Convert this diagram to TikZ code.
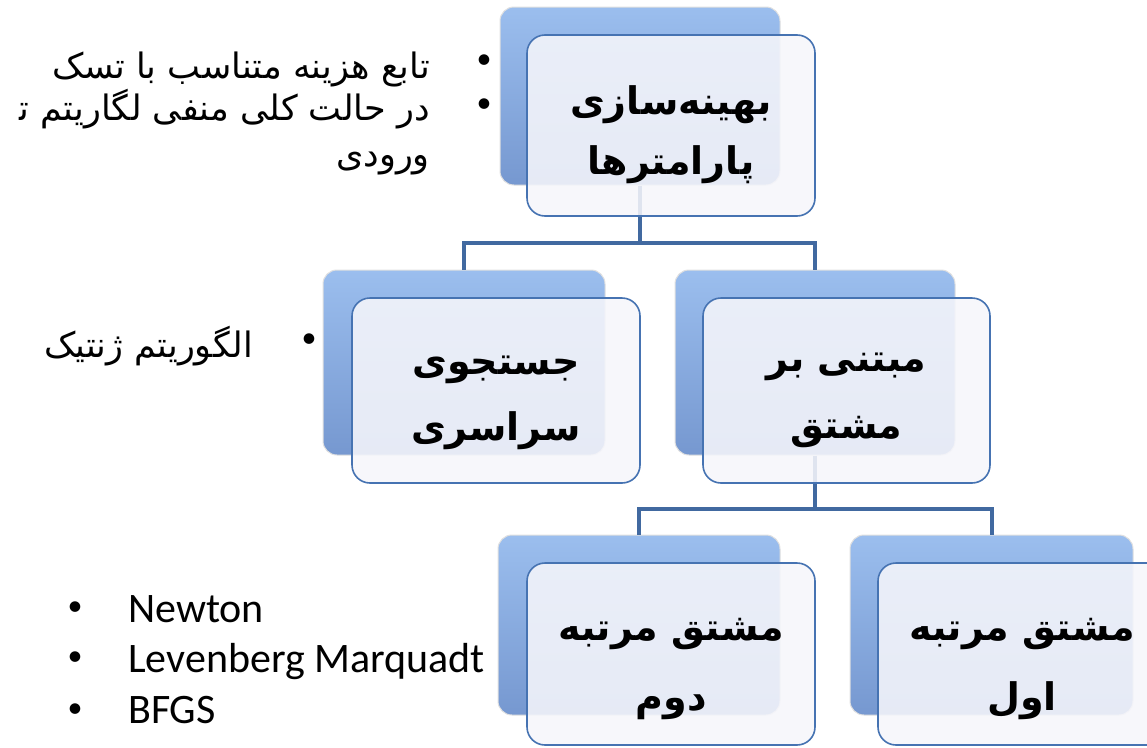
\documentclass[tikz,border=0pt]{standalone}
\usepackage{fontspec}
\setmainfont{Carlito}
\newfontfamily\fa[Script=Arabic]{DejaVu Sans}
\TeXXeTstate=1
\usetikzlibrary{calc}
\definecolor{linkblue}{RGB}{65,105,160}
\definecolor{edgeblue}{RGB}{70,115,178}
\definecolor{backtop}{RGB}{155,190,238}
\definecolor{backbot}{RGB}{118,152,208}
\definecolor{frontfill}{RGB}{246,246,251}
% raises the first line's height so the label block sits a little lower
\newcommand{\droptext}[1][52pt]{\rule{0pt}{#1}}
\tikzset{
  backbox/.style={rounded corners=14pt, top color=backtop, bottom color=backbot,
    draw=black!12, line width=1pt, minimum width=280pt, minimum height=180pt, inner sep=0pt},
  frontbox/.style={rounded corners=18pt, fill=frontfill, fill opacity=0.88, text opacity=1,
    draw=edgeblue, line width=1.6pt, minimum width=288pt, minimum height=183pt,
    align=center, inner sep=0pt, font=\fa\bfseries\fontsize{38}{64}\selectfont},
  link/.style={draw=linkblue, line width=4pt},
  fatext/.style={font=\fa\fontsize{35}{40}\selectfont, anchor=base east, inner sep=0pt},
  dot/.style={font=\fontsize{30}{34}\selectfont, inner sep=0pt},
  entext/.style={font=\fontsize{42}{50}\selectfont, anchor=base west, inner sep=0pt},
}
\begin{document}
\begin{tikzpicture}[x=1pt, y=-1pt]
\useasboundingbox (0,0) rectangle (1147,747);
\clip (0,0) rectangle (1147,747);
\fill[white] (0,0) rectangle (1147,747);

% back layers of the hierarchy boxes
\node[backbox, minimum height=178pt] (topb) at (640,96) {};
\node[backbox, minimum width=282pt, minimum height=185pt] (mlb) at (464,362.5) {};
\node[backbox, minimum height=185pt] (mrb) at (815,362.5) {};
\node[backbox, minimum width=282pt] (blb) at (639,625) {};
\node[backbox, minimum width=283pt] (brb) at (991.5,625) {};

% connectors between levels
\draw[link] (topb.south) -- ++(0,57) coordinate (j1) -| (mlb.north);
\draw[link] (j1) -| (mrb.north);
\draw[link] (mrb.south) -- ++(0,53) coordinate (j2) -| (blb.north);
\draw[link] (j2) -| (brb.north);

% front cards with labels
\node[frontbox, minimum height=181pt, font=\fa\bfseries\fontsize{38}{60}\selectfont] (topf) at (671,125.5)
  {\droptext[48pt]\beginR بهینه‌سازی\endR\\\beginR پارامترها\endR};
\node[frontbox, minimum height=185pt, font=\fa\bfseries\fontsize{38}{66}\selectfont] (mlf) at (496,390.5)
  {\droptext[44pt]\beginR جستجوی\endR\\\beginR سراسری\endR};
\node[frontbox, minimum width=287pt, minimum height=185pt, font=\fa\bfseries\fontsize{38}{67}\selectfont] (mrf) at (846.5,390.5)
  {\droptext[38pt]\beginR مبتنی بر\endR\\\beginR مشتق\endR};
\node[frontbox, minimum height=182pt, font=\fa\bfseries\fontsize{38}{70}\selectfont] (blf) at (671,654)
  {\droptext\beginR مشتق مرتبه\endR\\\beginR دوم\endR};
\node[frontbox, minimum height=182pt, font=\fa\bfseries\fontsize{38}{70}\selectfont] (brf) at (1022,654)
  {\droptext\beginR مشتق مرتبه\endR\\\beginR اول\endR};

% notes beside the top card
\node[fatext] (s1) at (430,78) {\beginR تابع هزینه متناسب با تسک\endR};
\node[fatext] (s2) at (430,120) {\beginR در حالت کلی منفی لگاریتم ت‍\endR};
\node[fatext] (s3) at (430,166) {\beginR ورودی\endR};
\node[dot] (d1) at (484,62) {\textbullet};
\node[dot] (d2) at (484,106) {\textbullet};

% note beside the global search card
\node[fatext] (s4) at (253,357) {\beginR الگوریتم ژنتیک\endR};
\node[dot] (d3) at (309,341) {\textbullet};

% second-order methods
\node[dot] (d4) at (75,609) {\textbullet};
\node[dot] (d5) at (75,659) {\textbullet};
\node[dot] (d6) at (75,711) {\textbullet};
\node[entext] (n1) at (128,622) {Newton};
\node[entext] (n2) at (128,672) {Levenberg Marquadt};
\node[entext] (n3) at (128,723) {BFGS};
\end{tikzpicture}
\end{document}
